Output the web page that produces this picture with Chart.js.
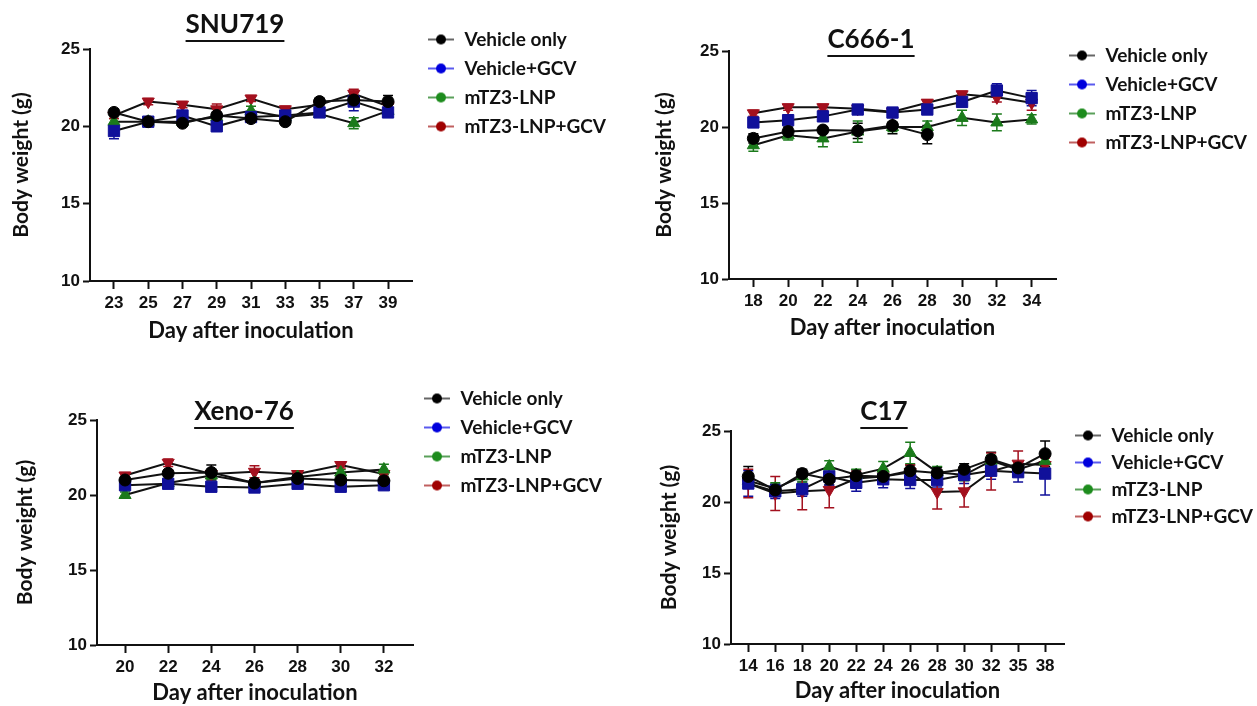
<!DOCTYPE html>
<html>
<head>
<meta charset="utf-8">
<script src="https://cdn.jsdelivr.net/npm/chart.js@4.4.1/dist/chart.umd.min.js"></script>
<style>
  html, body { margin: 0; padding: 0; background: #fff; }
  body { width: 1257px; height: 706px; position: relative; overflow: hidden; }
  canvas { position: absolute; }
</style>
</head>
<body>
<canvas id="snu" width="640" height="353" style="left:0;top:0"></canvas>
<canvas id="c666" width="617" height="353" style="left:640px;top:0"></canvas>
<canvas id="xeno" width="640" height="353" style="left:0;top:353px"></canvas>
<canvas id="c17" width="617" height="353" style="left:640px;top:353px"></canvas>
<script>
const seriesNames = ['Vehicle only', 'Vehicle+GCV', 'mTZ3-LNP', 'mTZ3-LNP+GCV'];

// SNU719
const snuDays = [23, 25, 27, 29, 31, 33, 35, 37, 39];
const snuVehicle = [20.9, 20.3, 20.2, 20.7, 20.5, 20.3, 21.6, 21.7, 21.6];
const snuVehicleGcv = [19.7, 20.3, 20.7, 20.0, 20.6, 20.7, 20.9, 21.6, 20.9];
const snuLnp = [20.3, 20.3, 20.3, 20.6, 21.0, 20.6, 20.8, 20.2, 21.0];
const snuLnpGcv = [20.7, 21.6, 21.4, 21.1, 21.8, 21.1, 21.4, 22.1, 21.3];
const snuVehicleErr = [0.2, 0.2, 0.2, 0.2, 0.2, 0.2, 0.2, 0.3, 0.4];
const snuVehicleGcvErr = [0.5, 0.2, 0.3, 0.2, 0.2, 0.2, 0.3, 0.6, 0.2];
const snuLnpErr = [0.2, 0.2, 0.2, 0.2, 0.3, 0.2, 0.2, 0.35, 0.2];
const snuLnpGcvErr = [0.2, 0.2, 0.2, 0.35, 0.2, 0.2, 0.2, 0.3, 0.2];

// C666-1
const c666Days = [18, 20, 22, 24, 26, 28, 30, 32, 34];
const c666Vehicle = [19.25, 19.7, 19.8, 19.75, 20.1, 19.5, null, null, null];
const c666VehicleGcv = [20.3, 20.45, 20.7, 21.15, 20.95, 21.15, 21.65, 22.4, 21.9];
const c666Lnp = [18.8, 19.45, 19.25, 19.7, 20.0, 20.0, 20.6, 20.3, 20.5];
const c666LnpGcv = [20.9, 21.3, 21.3, 21.2, 21.0, 21.6, 22.15, 21.95, 21.6];
const c666VehicleErr = [0.3, 0.3, 0.2, 0.5, 0.55, 0.6, null, null, null];
const c666VehicleGcvErr = [0.2, 0.2, 0.3, 0.2, 0.2, 0.3, 0.3, 0.45, 0.5];
const c666LnpErr = [0.4, 0.3, 0.55, 0.7, 0.3, 0.4, 0.5, 0.55, 0.3];
const c666LnpGcvErr = [0.2, 0.2, 0.2, 0.2, 0.2, 0.2, 0.2, 0.3, 0.5];

// Xeno-76
const xenoDays = [20, 22, 24, 26, 28, 30, 32];
const xenoVehicle = [21.0, 21.45, 21.5, 20.8, 21.1, 21.0, 20.95];
const xenoVehicleGcv = [20.65, 20.75, 20.55, 20.5, 20.75, 20.55, 20.65];
const xenoLnp = [20.0, 20.8, 21.3, 20.8, 21.2, 21.5, 21.7];
const xenoLnpGcv = [21.3, 22.15, 21.4, 21.55, 21.4, 22.0, 21.4];
const xenoVehicleErr = [0.2, 0.2, 0.5, 0.2, 0.2, 0.2, 0.2];
const xenoVehicleGcvErr = [0.2, 0.2, 0.2, 0.3, 0.2, 0.2, 0.2];
const xenoLnpErr = [0.2, 0.2, 0.2, 0.2, 0.2, 0.2, 0.35];
const xenoLnpGcvErr = [0.2, 0.25, 0.2, 0.4, 0.2, 0.2, 0.2];

// C17 (uneven days, plotted by position)
const c17Days = ['14', '16', '18', '20', '22', '24', '26', '28', '30', '32', '35', '38'];
const c17Vehicle = [21.8, 20.85, 22.0, 21.6, 21.85, 21.8, 22.2, 22.05, 22.3, 23.0, 22.4, 23.4];
const c17VehicleGcv = [21.3, 20.75, 20.9, 21.8, 21.35, 21.6, 21.55, 21.55, 21.9, 22.2, 22.1, 22.0];
const c17Lnp = [21.5, 20.95, 21.8, 22.5, 21.9, 22.35, 23.45, 22.1, 21.9, 22.9, 22.3, 22.9];
const c17LnpGcv = [21.3, 20.6, 20.75, 20.85, 21.65, 21.8, 22.1, 20.7, 20.75, 22.15, 22.7, 22.6];
const c17VehicleErr = [0.7, 0.4, 0.3, 0.4, 0.4, 0.4, 0.4, 0.4, 0.4, 0.5, 0.4, 0.9];
const c17VehicleGcvErr = [0.9, 0.5, 0.5, 0.6, 0.6, 0.6, 0.6, 0.5, 0.6, 0.6, 0.7, 1.5];
const c17LnpErr = [0.4, 0.4, 0.4, 0.4, 0.4, 0.5, 0.75, 0.4, 0.4, 0.4, 0.4, 0.5];
const c17LnpGcvErr = [1.0, 1.2, 1.3, 1.25, 0.5, 0.5, 0.5, 1.2, 1.1, 1.3, 0.9, 0.5];

const markerColors = ['#000000', '#10109a', '#1b7a1b', '#a3101e'];
const legendDotColors = ['#000000', '#0000dd', '#1d8c1d', '#a00000'];
const legendLineColors = ['#666666', '#5a5aee', '#5aa05a', '#c06060'];
const markerStyles = ['circle', 'rect', 'triangle', 'triangle'];
const markerRotation = [0, 0, 0, 180];
const markerRadius = [6, 8, 7, 7];

const labelFont = '"Lato", "Open Sans", sans-serif';
const tickFont = '"Liberation Sans Narrow", "Liberation Sans", Arial, sans-serif';

// small line + dot icons for the legend; shift leaves blank room on the left
function makeIcons(shift) {
  return legendDotColors.map((c, i) => {
    const cv = document.createElement('canvas');
    cv.width = 26 + shift; cv.height = 12;
    const g = cv.getContext('2d');
    g.strokeStyle = legendLineColors[i];
    g.lineWidth = 2;
    g.beginPath(); g.moveTo(shift, 6); g.lineTo(shift + 26, 6); g.stroke();
    g.fillStyle = c;
    g.beginPath(); g.arc(shift + 13, 6, 5, 0, Math.PI * 2); g.fill();
    return cv;
  });
}

// vertical SEM bars with caps
const errorBars = {
  id: 'errorBars',
  beforeDatasetsDraw(chart) {
    const ctx = chart.ctx;
    const yScale = chart.scales.y;
    ctx.save();
    chart.data.datasets.forEach((ds, di) => {
      const meta = chart.getDatasetMeta(di);
      ctx.strokeStyle = ds.pointBackgroundColor;
      ctx.lineWidth = 1.5;
      meta.data.forEach((pt, i) => {
        const v = ds.data[i].y;
        const e = ds.errors[i];
        if (v == null || e == null) return;
        const top = yScale.getPixelForValue(v + e);
        const bot = yScale.getPixelForValue(v - e);
        ctx.beginPath();
        ctx.moveTo(pt.x, top); ctx.lineTo(pt.x, bot);
        ctx.moveTo(pt.x - 5, top); ctx.lineTo(pt.x + 5, top);
        ctx.moveTo(pt.x - 5, bot); ctx.lineTo(pt.x + 5, bot);
        ctx.stroke();
      });
    });
    ctx.restore();
  }
};

// underlined panel title
const panelTitle = {
  id: 'panelTitle',
  afterDraw(chart, args, opts) {
    const ctx = chart.ctx;
    ctx.save();
    ctx.font = 'bold 26px ' + labelFont;
    ctx.fillStyle = '#111';
    ctx.textAlign = 'center';
    ctx.textBaseline = 'middle';
    ctx.fillText(opts.text, opts.x, opts.y);
    const w = ctx.measureText(opts.text).width;
    ctx.fillRect(opts.x - w / 2, opts.y + 15, w, 2);
    ctx.restore();
  }
};

function drawPanel(id, p) {
  const canvas = document.getElementById(id);
  const W = canvas.width, H = canvas.height;
  const icons = makeIcons(p.legendShift);
  const datasets = p.series.map((vals, i) => ({
    label: seriesNames[i],
    data: vals.map((v, k) => ({ x: p.xs[k], y: v })),
    errors: p.errs[i],
    xAxisID: 'x',
    yAxisID: 'y',
    borderColor: '#111',
    borderWidth: 2,
    pointStyle: markerStyles[i],
    rotation: markerRotation[i],
    pointRadius: markerRadius[i],
    pointBackgroundColor: markerColors[i],
    pointBorderColor: markerColors[i],
    pointBorderWidth: 1,
    spanGaps: false
  }));

  const chart = new Chart(canvas, {
    type: 'line',
    data: { datasets },
    plugins: [errorBars, panelTitle],
    options: {
      responsive: false,
      animation: false,
      layout: { padding: { left: 0, top: p.legendTop, right: 0, bottom: 0 } },
      scales: {
        x: {
          type: 'linear',
          position: 'bottom',
          min: p.xMin,
          max: p.xMax,
          afterBuildTicks: s => { s.ticks = p.xs.map(v => ({ value: v })); },
          afterFit: s => { s.height = H - p.bottom; },
          grid: { drawOnChartArea: false, drawTicks: true, tickLength: 8, tickWidth: 2, tickColor: '#111' },
          border: { color: '#111', width: 2 },
          ticks: {
            autoSkip: false, maxRotation: 0, padding: 4, color: '#111',
            font: { family: tickFont, size: 17, weight: 'bold' },
            callback: v => p.tickText(v)
          },
          title: {
            display: true, text: 'Day after inoculation', color: '#111',
            font: { family: labelFont, size: 22, weight: 'bold' },
            padding: { top: 0, bottom: p.xTitlePad }
          }
        },
        pad: {
          type: 'linear', axis: 'x', position: 'top', display: true,
          grid: { display: false }, border: { display: false }, ticks: { display: false },
          afterFit: s => { s.height = p.top - p.legendTop; }
        },
        y: {
          min: 10,
          max: 25,
          afterFit: s => { s.width = p.left; },
          grid: { drawOnChartArea: false, drawTicks: true, tickLength: 7, tickWidth: 2, tickColor: '#111' },
          border: { color: '#111', width: 2 },
          ticks: {
            stepSize: 5, padding: 3, color: '#111',
            font: { family: tickFont, size: 17, weight: 'bold' }
          },
          title: {
            display: true, text: 'Body weight (g)', color: '#111',
            font: { family: labelFont, size: 21, weight: 'bold' },
            padding: { top: p.yTitlePad, bottom: 0 }
          }
        }
      },
      plugins: {
        tooltip: { enabled: false },
        title: { display: false },
        panelTitle: p.title,
        legend: {
          position: 'right',
          align: 'start',
          maxWidth: W - p.right,
          labels: {
            usePointStyle: true,
            pointStyleWidth: 28 + p.legendShift,
            padding: p.legendGap,
            color: '#111',
            font: { family: labelFont, size: 19, weight: 'bold' },
            generateLabels(ch) {
              const items = Chart.defaults.plugins.legend.labels.generateLabels(ch);
              items.forEach((it, i) => {
                it.pointStyle = icons[i];
                it.rotation = 0;
              });
              return items;
            }
          }
        }
      }
    }
  });
  // push the legend so the plot ends where the reference axis ends
  chart.options.layout.padding.right = Math.max(0, W - p.right - chart.legend.width);
  chart.update('none');
  return chart;
}

const dayText = v => String(v);

drawPanel('snu', {
  xs: snuDays, xMin: 21.6, xMax: 40.4, tickText: dayText,
  series: [snuVehicle, snuVehicleGcv, snuLnp, snuLnpGcv],
  errs: [snuVehicleErr, snuVehicleGcvErr, snuLnpErr, snuLnpGcvErr],
  left: 90, top: 49, bottom: 281, right: 412, legendTop: 20, legendGap: 10, legendShift: 5,
  xTitlePad: 9, yTitlePad: 9,
  title: { text: 'SNU719', x: 235, y: 25 }
});

drawPanel('c666', {
  xs: c666Days, xMin: 16.6, xMax: 35.4, tickText: dayText,
  series: [c666Vehicle, c666VehicleGcv, c666Lnp, c666LnpGcv],
  errs: [c666VehicleErr, c666VehicleGcvErr, c666LnpErr, c666LnpGcvErr],
  left: 89, top: 51, bottom: 279, right: 416, legendTop: 36, legendGap: 10, legendShift: 2,
  xTitlePad: 12, yTitlePad: 12,
  title: { text: 'C666-1', x: 231, y: 40 }
});

drawPanel('xeno', {
  xs: xenoDays, xMin: 18.7, xMax: 33.35, tickText: dayText,
  series: [xenoVehicle, xenoVehicleGcv, xenoLnp, xenoLnpGcv],
  errs: [xenoVehicleErr, xenoVehicleGcvErr, xenoLnpErr, xenoLnpGcvErr],
  left: 97, top: 67, bottom: 292, right: 413, legendTop: 26, legendGap: 10, legendShift: 0,
  xTitlePad: 0, yTitlePad: 13,
  title: { text: 'Xeno-76', x: 244, y: 59 }
});

drawPanel('c17', {
  xs: c17Days.map((d, i) => i), xMin: -0.64, xMax: 11.7, tickText: v => c17Days[v],
  series: [c17Vehicle, c17VehicleGcv, c17Lnp, c17LnpGcv],
  errs: [c17VehicleErr, c17VehicleGcvErr, c17LnpErr, c17LnpGcvErr],
  left: 91, top: 78, bottom: 291, right: 424, legendTop: 65, legendGap: 8, legendShift: 2,
  xTitlePad: 2, yTitlePad: 17,
  title: { text: 'C17', x: 244, y: 59 }
});
</script>
</body>
</html>
